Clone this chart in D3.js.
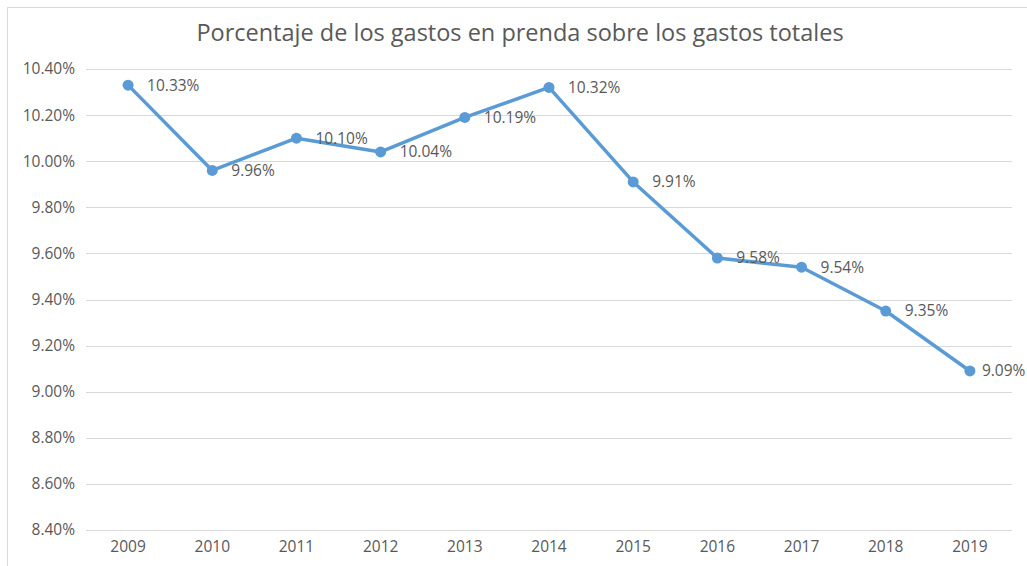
<!DOCTYPE html>
<html>
<head>
<meta charset="utf-8">
<script src="https://cdn.jsdelivr.net/npm/d3@7"></script>
<style>
  body { margin: 0; background: #fff; }
  text { font-family: "Open Sans", "Liberation Sans", sans-serif; fill: #595959; }
</style>
</head>
<body>
<svg id="chart" width="1027" height="566"></svg>
<script>
// data
const years = ["2009", "2010", "2011", "2012", "2013", "2014", "2015", "2016", "2017", "2018", "2019"];
const pct = [10.33, 9.96, 10.10, 10.04, 10.19, 10.32, 9.91, 9.58, 9.54, 9.35, 9.09];
const yTicks = [8.4, 8.6, 8.8, 9.0, 9.2, 9.4, 9.6, 9.8, 10.0, 10.2, 10.4];

const svg = d3.select("#chart");

// chart frame (only top and left edges show in the picture)
svg.append("path")
  .attr("d", "M7.5,566 V7.5 H1027")
  .attr("fill", "none")
  .attr("stroke", "#d9d9d9")
  .attr("stroke-width", 1);

const x = d3.scaleBand()
  .domain(years)
  .range([86, 1012]);

const y = d3.scaleLinear()
  .domain([8.4, 10.4])
  .range([530, 69]);

// gridlines
svg.append("g")
  .selectAll("line")
  .data(yTicks)
  .join("line")
  .attr("x1", 86)
  .attr("x2", 1012)
  .attr("y1", d => Math.round(y(d)) + 0.5)
  .attr("y2", d => Math.round(y(d)) + 0.5)
  .attr("stroke", "#d9d9d9")
  .attr("stroke-width", 1);

// y axis labels
const yAxis = svg.append("g")
  .attr("transform", "translate(86,0)")
  .call(d3.axisLeft(y).tickValues(yTicks).tickSize(0).tickPadding(11)
    .tickFormat(d => d.toFixed(2) + "%"));
yAxis.select(".domain").remove();
yAxis.selectAll("text")
  .style("font-size", "15.5px")
  .attr("fill", "#595959");

// x axis labels
const xAxis = svg.append("g")
  .attr("transform", "translate(0,530)")
  .call(d3.axisBottom(x).tickSize(0).tickPadding(11));
xAxis.select(".domain").remove();
xAxis.selectAll("text")
  .style("font-size", "15.5px")
  .attr("fill", "#595959");

const cx = d => x(d) + x.bandwidth() / 2;

// line
const line = d3.line()
  .x((d, i) => cx(years[i]))
  .y(d => y(d));

svg.append("path")
  .datum(pct)
  .attr("d", line)
  .attr("fill", "none")
  .attr("stroke", "#5b9bd5")
  .attr("stroke-width", 3.5)
  .attr("stroke-linejoin", "round");

// markers
svg.append("g")
  .selectAll("circle")
  .data(pct)
  .join("circle")
  .attr("cx", (d, i) => cx(years[i]))
  .attr("cy", d => y(d))
  .attr("r", 5.5)
  .attr("fill", "#5b9bd5");

// data labels (the last one is pulled in so it stays inside the frame)
svg.append("g")
  .selectAll("text")
  .data(pct)
  .join("text")
  .attr("x", (d, i) => cx(years[i]) + (i === pct.length - 1 ? 12 : 19))
  .attr("y", d => y(d))
  .attr("dy", "0.35em")
  .style("font-size", "15.5px")
  .text(d => d.toFixed(2) + "%");

// title
svg.append("text")
  .attr("x", 520)
  .attr("y", 33)
  .attr("dy", "0.35em")
  .attr("text-anchor", "middle")
  .style("font-size", "23.5px")
  .text("Porcentaje de los gastos en prenda sobre los gastos totales");
</script>
</body>
</html>
